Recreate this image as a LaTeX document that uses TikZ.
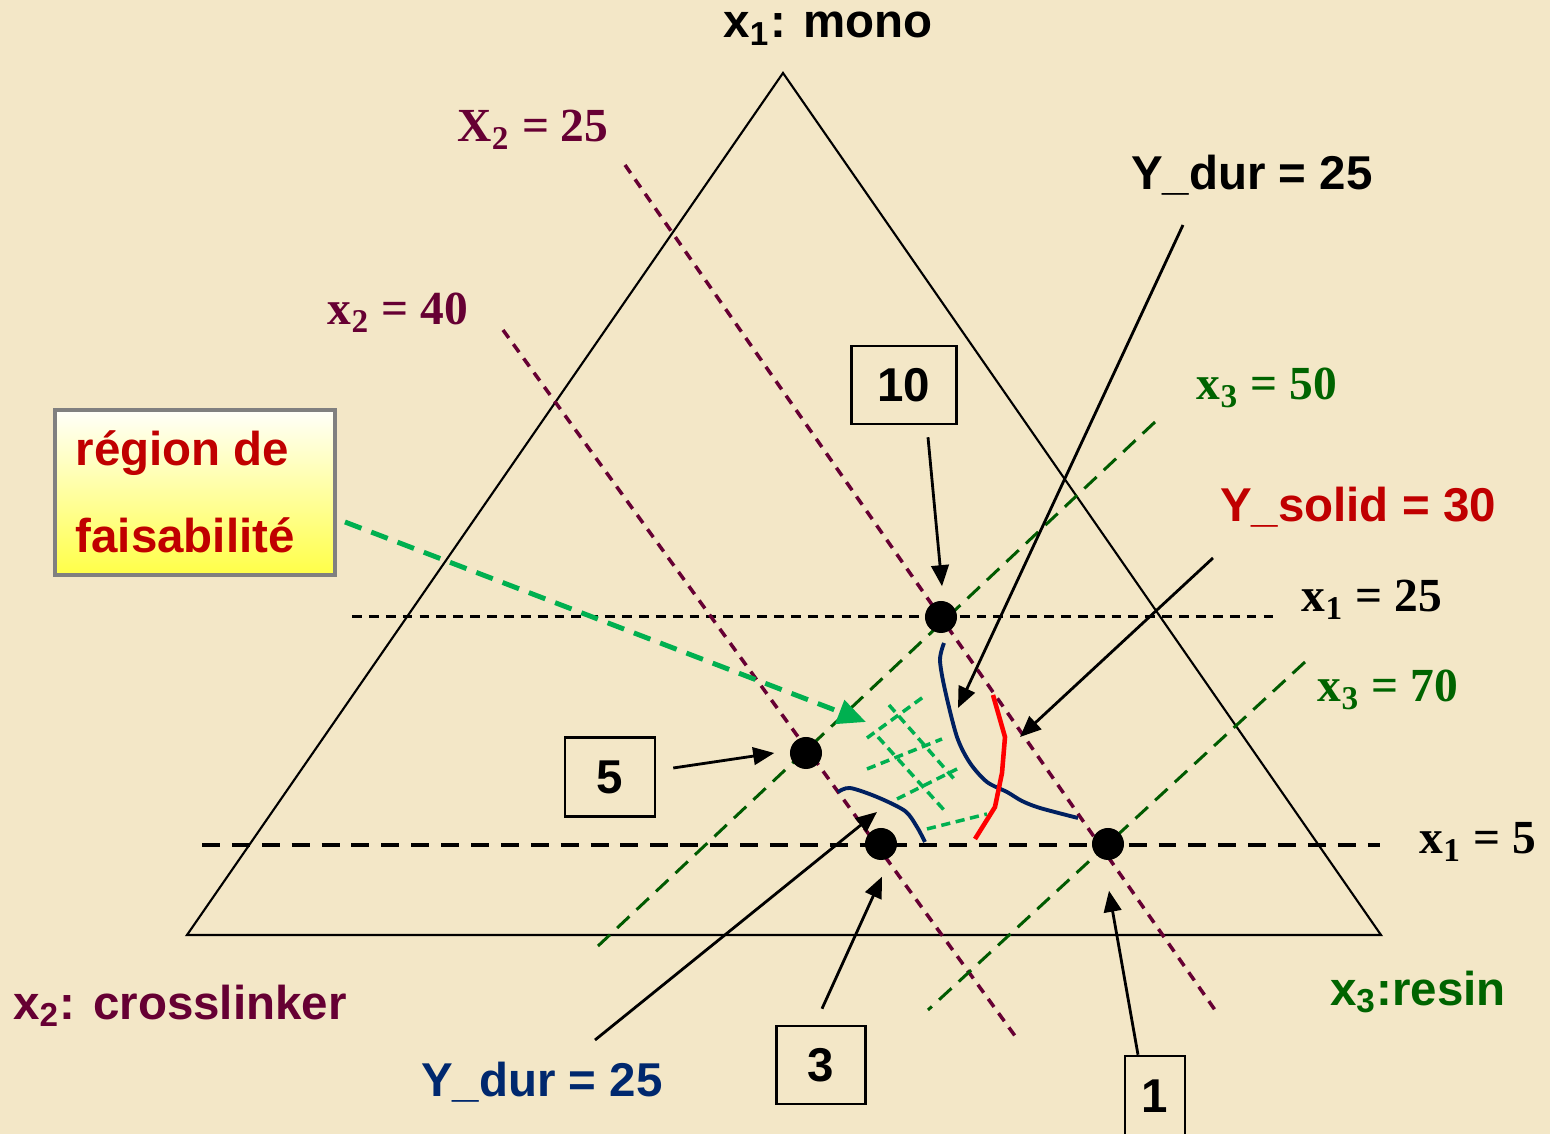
\documentclass[tikz,border=0pt]{standalone}
\usepackage{fontspec}
\setmainfont{Liberation Serif}
\setsansfont{Liberation Sans}
\usepackage{xcolor}
\usetikzlibrary{arrows.meta}

\definecolor{parchment}{RGB}{243,231,199}
\definecolor{plum}{RGB}{102,0,51}
\definecolor{leaf}{RGB}{0,100,0}
\definecolor{leafline}{RGB}{0,90,0}
\definecolor{lightleaf}{RGB}{0,176,80}
\definecolor{navyline}{RGB}{0,32,96}
\definecolor{navytext}{RGB}{0,40,110}
\definecolor{brickred}{RGB}{192,0,0}

\begin{document}
\begin{tikzpicture}[x=0.01cm, y=-0.01cm,
    >={Triangle[length=6pt,width=5pt]},
    sanslbl/.style={font=\sffamily\bfseries\fontsize{13.5}{16}\selectfont, inner sep=0pt},
    seriflbl/.style={font=\bfseries\fontsize{13.5}{16}\selectfont, inner sep=0pt},
    numbox/.style={draw, line width=0.7pt, sanslbl},
    dot/.style={circle, fill=black, minimum size=0.32cm, inner sep=0pt},
    ptr/.style={->, line width=0.8pt},
    xonedash/.style={dash pattern=on 2.8pt off 2pt, line width=0.85pt},
    xtwodash/.style={plum, dash pattern=on 2.8pt off 2.2pt, line width=1pt},
    xthreedash/.style={leafline, dash pattern=on 4.8pt off 2.8pt, line width=0.85pt},
    griddash/.style={lightleaf, dash pattern=on 2.6pt off 1.6pt, line width=1pt}]

    % Background
    \fill[parchment] (0,0) rectangle (1550,1134);
    \useasboundingbox (0,0) rectangle (1550,1134);

    % Ternary triangle
    \draw[line width=0.6pt] (783,73) -- (187,935) -- (1381,935) -- cycle;
    \node[sanslbl, anchor=base] (mono) at (828,38) {x\textsubscript{1}: mono};
    \node[sanslbl, plum] (cross) at (180,1006) {x\textsubscript{2}: crosslinker};
    \node[sanslbl, leaf] (resin) at (1418,992) {x\textsubscript{3}:resin};

    % Constraint lines x1
    \draw[xonedash] (352,617) -- (1275,617);
    \draw[dash pattern=on 5.1pt off 3.4pt, line width=1.4pt] (202,845) -- (1380,845);
    \node[seriflbl] (xa) at (1372,600) {x\textsubscript{1} = 25};
    \node[seriflbl] (xb) at (1478,842) {x\textsubscript{1} = 5};

    % Constraint lines x2
    \draw[xtwodash] (625,165) -- (1215,1010);
    \draw[xtwodash] (503,330) -- (1018,1040);
    \node[seriflbl, plum] (xc) at (533,130) {X\textsubscript{2} = 25};
    \node[seriflbl, plum] (xd) at (398,313) {x\textsubscript{2} = 40};

    % Constraint lines x3
    \draw[xthreedash] (1155,422) -- (598,946);
    \draw[xthreedash] (1305,662) -- (928,1010);
    \node[seriflbl, leaf] (xe) at (1267,388) {x\textsubscript{3} = 50};
    \node[seriflbl, leaf] (xf) at (1388,690) {x\textsubscript{3} = 70};

    % Feasible region hatching
    \draw[griddash] (867,738) -- (926,695);
    \draw[griddash] (867,769) -- (942,739);
    \draw[griddash] (897,799) -- (957,769);
    \draw[griddash] (927,829) -- (987,814);
    \draw[griddash] (889,705) -- (955,780);
    \draw[griddash] (878,737) -- (944,810);

    % Response contours
    \draw[navyline, line width=1.1pt] plot[smooth] coordinates {(944,643) (940,660) (945,690) (957,737) (970,763) (987,782) (1007,792) (1022,801) (1040,808) (1078,818)};
    \draw[navyline, line width=1.1pt] plot[smooth] coordinates {(838,792) (850,788) (877,797) (905,811) (917,827) (925,842)};
    \draw[red, line width=1.3pt] plot coordinates {(993,695) (1005,737) (1002,773) (995,807) (975,839)};

    % Design points
    \node[dot] (p10) at (941,617) {};
    \node[dot] (p5) at (806,753) {};
    \node[dot] (p3) at (881,844) {};
    \node[dot] (p1) at (1108,844) {};

    % Point labels
    \node[numbox, minimum width=1.05cm, minimum height=0.78cm] (b10) at (904,385) {10};
    \node[numbox, minimum width=0.9cm, minimum height=0.79cm] (b5) at (610,777) {5};
    \node[numbox, minimum width=0.89cm, minimum height=0.78cm] (b3) at (821,1065) {3};
    \node[numbox, minimum width=0.6cm, minimum height=0.8cm] (b1) at (1155,1096) {1};

    \draw[ptr] ([shift={(24,12)}]b10.south) -- ([shift={(1,-14)}]p10.north);
    \draw[ptr] ([shift={(17,-9)}]b5.east) -- ([shift={(-15,0)}]p5.west);
    \draw[ptr] ([shift={(1,-16)}]b3.north) -- ([shift={(1,16)}]p3.south);
    \draw[ptr] ([shift={(-17,0)}]b1.north) -- ([shift={(1,30)}]p1.south);

    % Response labels
    \node[sanslbl] (ydur) at (1252,175) {Y\_dur = 25};
    \coordinate (ydurs) at (1183,225);
    \coordinate (ydure) at (958,708);
    \draw[ptr] (ydurs) -- (ydure);

    \node[sanslbl, brickred] (ysol) at (1358,507) {Y\_solid = 30};
    \coordinate (ysols) at (1213,558);
    \coordinate (ysole) at (1020,737);
    \draw[ptr] (ysols) -- (ysole);

    \node[sanslbl, navytext] (ydurb) at (542,1082) {Y\_dur = 25};
    \coordinate (ydurbs) at (595,1040);
    \coordinate (ydurbe) at (877,812);
    \draw[ptr] (ydurbs) -- (ydurbe);

    % Feasibility box
    \node[draw=gray, line width=0.9pt, top color=white!98!yellow, middle color=white!93!yellow, bottom color=yellow!72!white, minimum width=2.8cm, minimum height=1.65cm] (feas) at (195,492.5) {};
    \node[sanslbl, brickred, anchor=base west] (feasa) at (75,466) {région de};
    \node[sanslbl, brickred, anchor=base west] (feasb) at (75,553) {faisabilité};
    \coordinate (gstart) at (345,522);
    \coordinate (gend) at (866,722);
    \draw[lightleaf, line width=1.4pt, dash pattern=on 5pt off 3pt, -{Triangle[length=8pt,width=7pt]}] (gstart) -- (gend);
\end{tikzpicture}
\end{document}
